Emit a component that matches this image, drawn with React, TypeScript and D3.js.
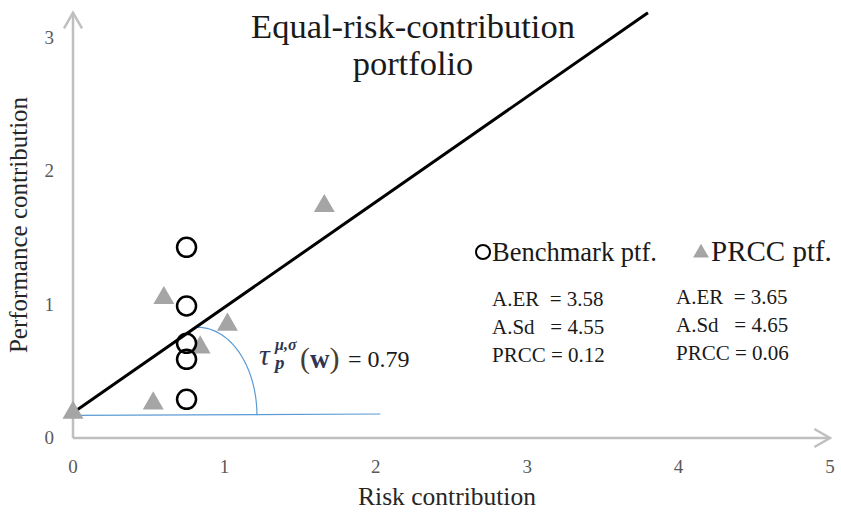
import React from 'react';
import * as d3 from 'd3';

// chart data
const xTicks = [0, 1, 2, 3, 4, 5];
const yTicks = [0, 1, 2, 3];

const benchmarkX = [0.75, 0.75, 0.75, 0.75, 0.75];
const benchmarkY = [1.43, 0.99, 0.71, 0.59, 0.29];

const prccX = [0, 0.53, 0.6, 0.84, 1.02, 1.66];
const prccY = [0.19, 0.26, 1.05, 0.68, 0.85, 1.74];

// fitted line: y = intercept + slope * x
const lineIntercept = 0.19;
const lineSlope = 0.79;

const statLabels = ['A.ER  ', 'A.Sd   ', 'PRCC '];
const benchmarkValues = ['3.58', '4.55', '0.12'];
const prccValues = ['3.65', '4.65', '0.06'];

const WIDTH = 841;
const HEIGHT = 513;
const serif = '"Liberation Serif", "Times New Roman", serif';

const App = () => {
  const x = d3.scaleLinear().domain([0, 5]).range([73, 830]);
  const y = d3.scaleLinear().domain([0, 3]).range([438, 38]);
  const yTop = 3.19;

  const axisColor = '#bfbfbf';
  const tickColor = '#595959';
  const blue = '#5b9bd5';
  const gray = '#a5a5a5';
  const mathColor = '#2f3550';

  // open arrowheads at the axis ends
  const arrow = (tx: number, ty: number, angle: number) => {
    const len = 18;
    const a1 = angle + Math.PI - Math.PI / 6;
    const a2 = angle + Math.PI + Math.PI / 6;
    return `M${tx + len * Math.cos(a1)},${ty + len * Math.sin(a1)}L${tx},${ty}L${tx + len * Math.cos(a2)},${ty + len * Math.sin(a2)}`;
  };

  const lineEndX = (yTop - lineIntercept) / lineSlope;
  const fitLine = d3.line<number>()
    .x(d => x(d))
    .y(d => y(lineIntercept + lineSlope * d));

  // horizontal reference (blue) and the angle arc
  const baseY = 0.17;
  const baseEnd = 2.03;
  const arcCx = 0.825;
  const arcRx = 0.39;
  const arcRy = 0.66;
  const arcPts = d3.range(0, 91, 3).map(deg => {
    const t = (deg * Math.PI) / 180;
    return [x(arcCx + arcRx * Math.sin(t)), y(baseY + arcRy * Math.cos(t))] as [number, number];
  });

  const tri = d3.symbol().type(d3.symbolTriangle).size(190);
  const triLegend = d3.symbol().type(d3.symbolTriangle).size(110);

  const statColX = [492, 676];
  const statRowY = [306, 334, 362];

  return (
    <svg width={WIDTH} height={HEIGHT} style={{ position: 'absolute', left: 0, top: 0, background: '#fff' }} fontFamily={serif}>
      {/* axes */}
      <line x1={x(0)} x2={x(0)} y1={y(0)} y2={y(yTop)} stroke={axisColor} strokeWidth={2.5} />
      <line x1={x(0)} x2={x(5)} y1={y(0)} y2={y(0)} stroke={axisColor} strokeWidth={2.5} />
      <path d={arrow(x(0), y(yTop), -Math.PI / 2)} fill="none" stroke={axisColor} strokeWidth={2.5} />
      <path d={arrow(x(5), y(0), 0)} fill="none" stroke={axisColor} strokeWidth={2.5} />

      {xTicks.map(t => (
        <text key={'x' + t} x={x(t)} y={473} textAnchor="middle" fontSize={19} fill={tickColor}>{t}</text>
      ))}
      {yTicks.map(t => (
        <text key={'y' + t} x={54} y={y(t) + 6} textAnchor="end" fontSize={19} fill={tickColor}>{t}</text>
      ))}

      <text x={447} y={505} textAnchor="middle" fontSize={25.5} fill="#262626">Risk contribution</text>
      <text transform={`translate(27,225) rotate(-90)`} textAnchor="middle" fontSize={25} fill="#262626">Performance contribution</text>

      {/* title */}
      <text x={413} y={38} textAnchor="middle" fontSize={34.5} fill="#1a1a1a">Equal-risk-contribution</text>
      <text x={413} y={75} textAnchor="middle" fontSize={34.5} fill="#1a1a1a">portfolio</text>

      {/* blue angle marking */}
      <line x1={x(0)} x2={x(baseEnd)} y1={y(baseY)} y2={y(baseY + 0.01)} stroke={blue} strokeWidth={1.2} />
      <path d={d3.line()(arcPts) || ''} fill="none" stroke={blue} strokeWidth={1.2} />

      {/* fitted line */}
      <path d={fitLine([0, lineEndX]) || ''} fill="none" stroke="#000" strokeWidth={3} />

      {/* PRCC portfolio triangles */}
      {prccX.map((v, i) => (
        <path key={'t' + i} d={tri() || ''} transform={`translate(${x(v)},${y(prccY[i])})`} fill={gray} />
      ))}

      {/* benchmark circles */}
      {benchmarkX.map((v, i) => (
        <circle key={'c' + i} cx={x(v)} cy={y(benchmarkY[i])} r={9.5} fill="none" stroke="#000" strokeWidth={2.5} />
      ))}

      {/* angle label */}
      <text x={259} y={365} fontSize={30} fontStyle="italic" fill={mathColor}>τ</text>
      <text x={275} y={350} fontSize={16} fontStyle="italic" fontWeight="bold" fill={mathColor}>μ,σ</text>
      <text x={275} y={369} fontSize={19} fontStyle="italic" fontWeight="bold" fill={mathColor}>p</text>
      <text x={300} y={368} fill={mathColor}>
        <tspan fontSize={30} fill="#4a3b2c">(</tspan>
        <tspan fontSize={27} fontWeight="bold">w</tspan>
        <tspan fontSize={30} fill="#4a3b2c">)</tspan>
      </text>
      <text x={348} y={367} fontSize={24} fill="#1a1a1a">= 0.79</text>

      {/* legend */}
      <circle cx={483} cy={252} r={7} fill="none" stroke="#000" strokeWidth={2} />
      <text x={492} y={261} fontSize={26.5} fill="#1a1a1a">Benchmark ptf.</text>
      <path d={triLegend() || ''} transform={`translate(701,253)`} fill={gray} />
      <text x={711} y={261} fontSize={29} fill="#1a1a1a">PRCC ptf.</text>

      {/* statistics */}
      {statLabels.map((s, i) => (
        <g key={'s' + i} fontSize={21} fill="#1a1a1a" style={{ whiteSpace: 'pre' }}>
          <text x={statColX[0]} y={statRowY[i]} xmlSpace="preserve">{`${s}= ${benchmarkValues[i]}`}</text>
          <text x={statColX[1]} y={statRowY[i] - 2} xmlSpace="preserve">{`${s}= ${prccValues[i]}`}</text>
        </g>
      ))}
    </svg>
  );
};

export default App;
